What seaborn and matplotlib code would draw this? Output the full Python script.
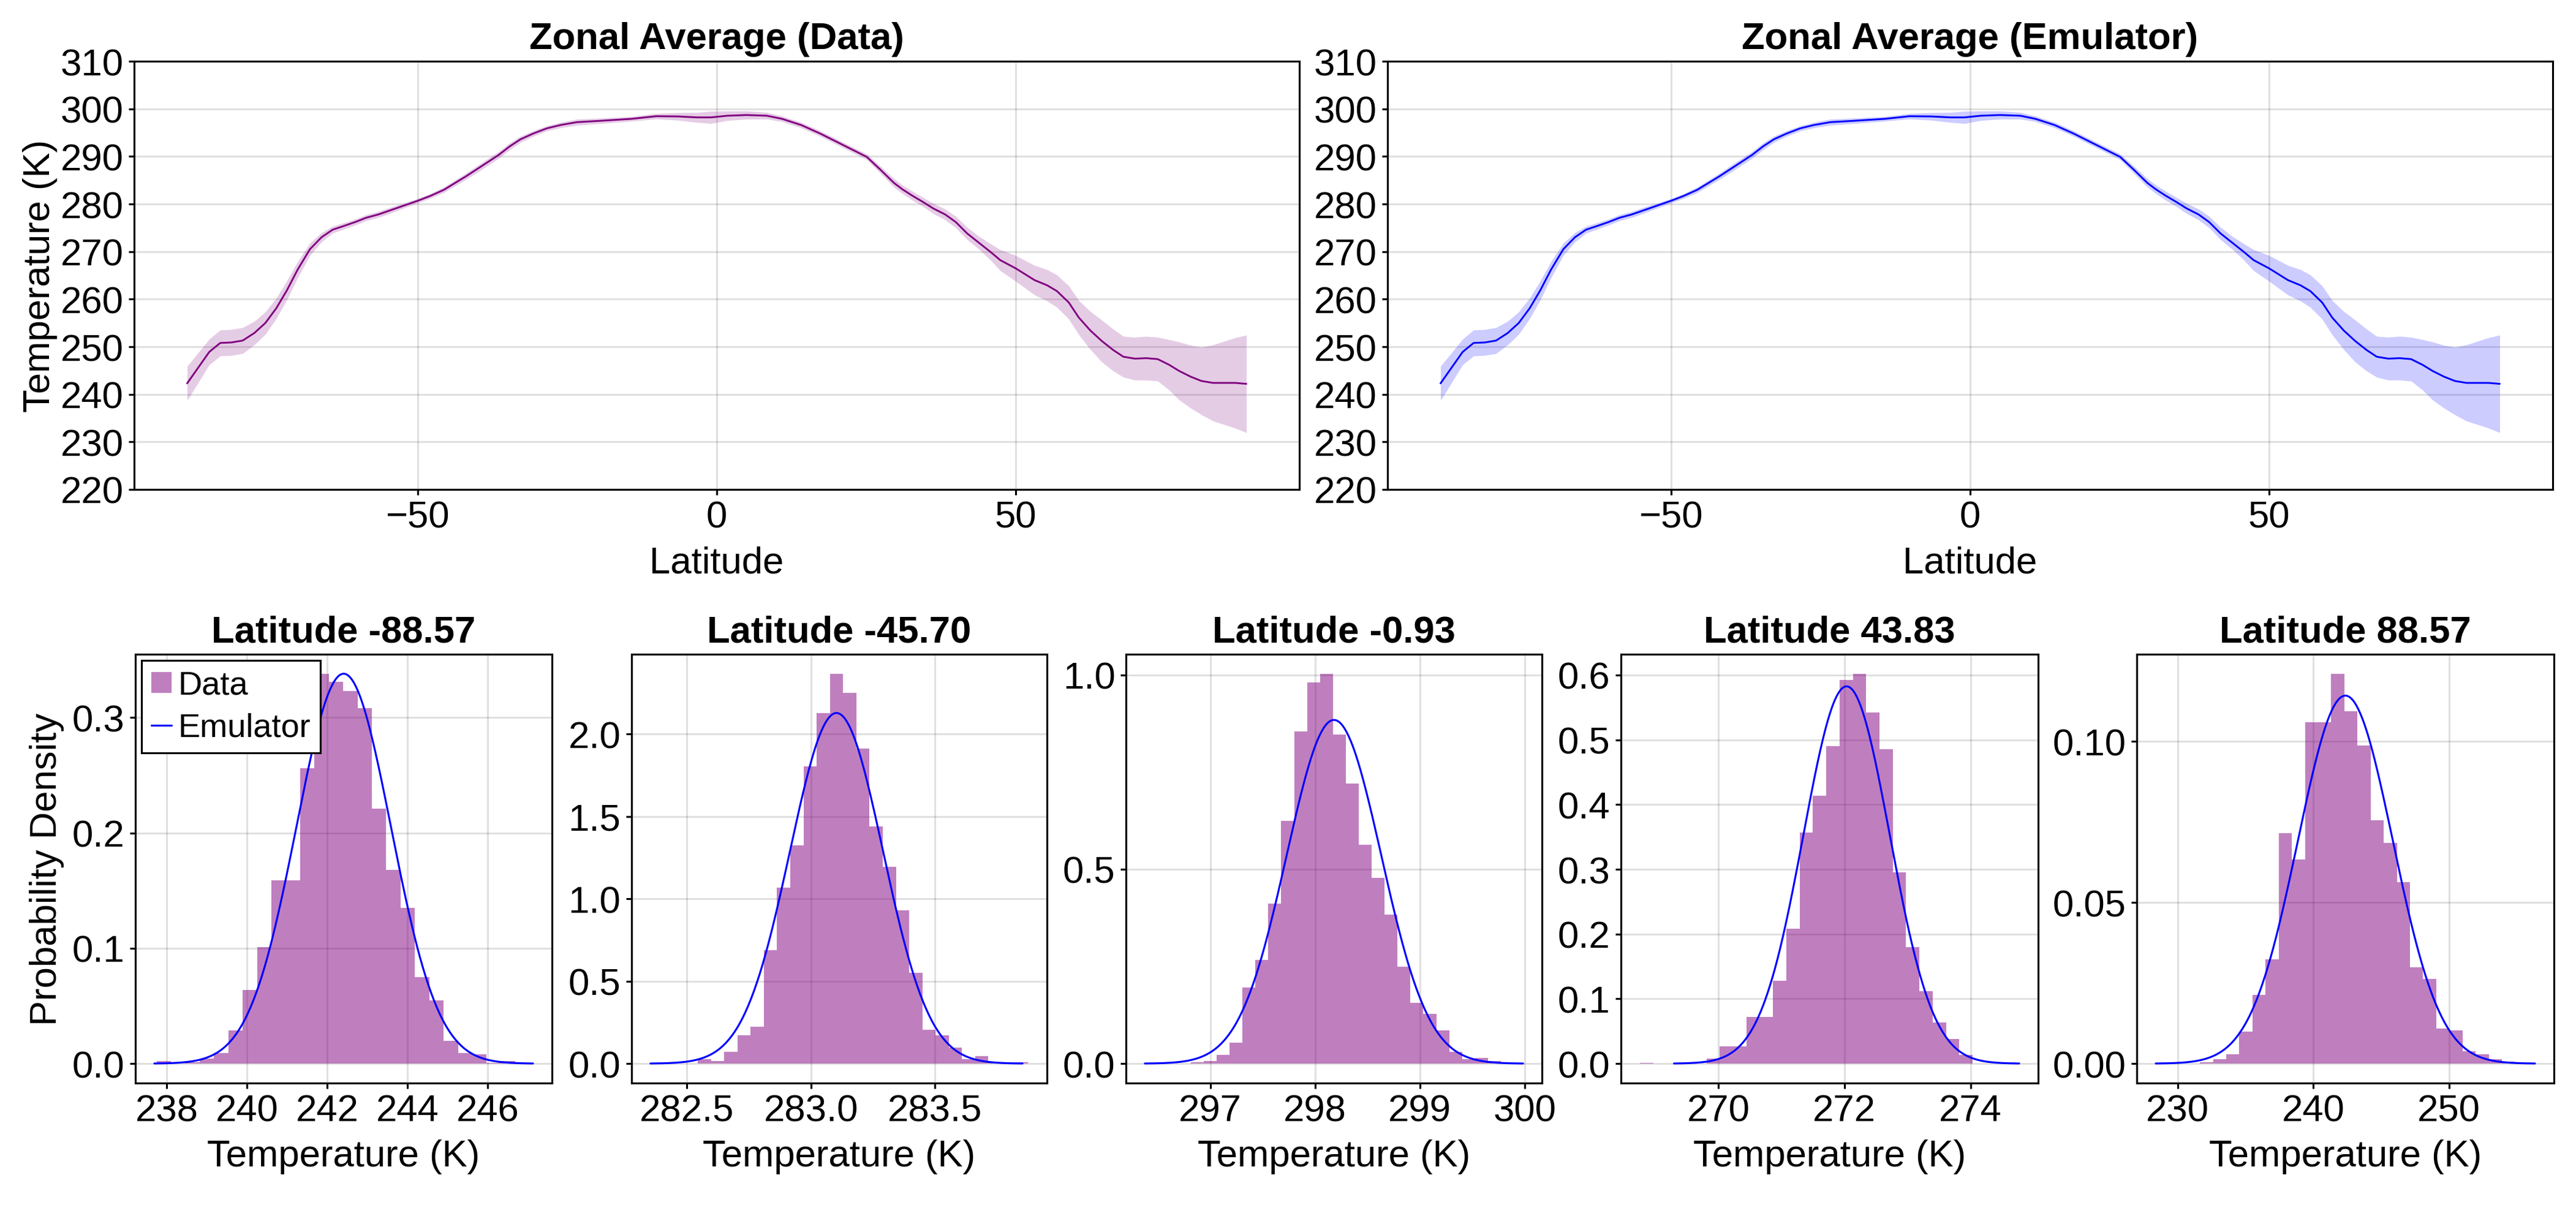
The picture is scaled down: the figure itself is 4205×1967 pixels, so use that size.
import numpy as np
import pandas as pd
import seaborn as sns
import matplotlib.pyplot as plt
from matplotlib.patches import Patch
from matplotlib.lines import Line2D

# zonal average, band = +/- spread
lat = [-88.57, -84.87, -83.03, -81.16, -79.28, -77.31, -75.48, -73.65, -71.91, -70.09, -68.03,
       -66.1, -64.23, -62.32, -60.48, -58.66, -56.6, -54.76, -52.7, -49.97, -47.9, -45.61,
       -43.79, -41.96, -40.13, -38.3, -36.48, -34.64, -32.82, -30.7, -28.42, -26.13, -23.39,
       -19.27, -14.24, -10.12, -6.46, -3.26, -0.97, 1.77, 4.97, 8.4, 10.91, 14.12, 17.31,
       20.97, 25.09, 27.38, 29.67, 31.04, 32.64, 34.46, 36.16, 38.2, 39.98, 41.89, 43.8,
       45.71, 47.41, 49.96, 53.15, 55.27, 56.89, 58.87, 60.57, 62.49, 64.4, 66.31, 68.0,
       69.92, 71.83, 73.74, 75.66, 77.35, 79.26, 81.08, 83.0, 86.69, 88.57]
zonal_mean = [242.3, 248.9, 250.8, 250.9, 251.3, 252.9, 255.0, 258.1, 261.8, 266.2, 270.5,
              273.0, 274.6, 275.4, 276.2, 277.1, 277.8, 278.6, 279.5, 280.7, 281.7, 283.0,
              284.4, 285.8, 287.3, 288.8, 290.3, 292.1, 293.6, 294.8, 295.9, 296.6, 297.2,
              297.5, 297.9, 298.45, 298.4, 298.2, 298.2, 298.55, 298.7, 298.55, 297.9, 296.6,
              294.8, 292.5, 289.9, 287.2, 284.4, 283.1, 281.8, 280.45, 279.1, 277.8, 276.2,
              273.8, 271.9, 270.0, 268.2, 266.5, 264.0, 262.9, 261.7, 259.3, 256.1, 253.4,
              251.2, 249.3, 247.9, 247.5, 247.6, 247.4, 246.2, 244.9, 243.7, 242.8, 242.4,
              242.4, 242.2]
zonal_spread = [3.6, 2.7, 2.73, 2.73, 2.73, 2.47, 2.36, 2.16, 2.0, 1.7, 1.3, 0.98, 0.72, 0.68,
                0.63, 0.63, 0.63, 0.63, 0.55, 0.46, 0.5, 0.58, 0.62, 0.66, 0.72, 0.72, 0.72,
                0.72, 0.65, 0.58, 0.54, 0.58, 0.64, 0.56, 0.49, 0.58, 0.8, 1.05, 1.29, 1.0,
                0.86, 0.7, 0.58, 0.58, 0.58, 0.58, 0.6, 0.75, 0.9, 0.9, 0.95, 0.95, 1.07, 1.13,
                1.2, 1.3, 1.35, 1.7, 2.2, 2.7, 3.1, 3.3, 3.4, 3.5, 3.6, 4.0, 4.4, 4.4, 4.3,
                4.5, 4.6, 4.6, 5.3, 6.1, 6.6, 7.1, 8.0, 9.5, 10.25]
# emulator panel shows the same curve
emu_zonal_mean = list(zonal_mean)
emu_zonal_spread = list(zonal_spread)

# histograms at 5 latitudes
hist_titles = ["Latitude -88.57", "Latitude -45.70", "Latitude -0.93", "Latitude 43.83", "Latitude 88.57"]
hist_start = [237.747, 282.544, 296.815, 268.754, 231.643]
hist_width = [0.3577, 0.05324, 0.1233, 0.2112, 0.9674]
hist_heights = [
    [0.0023, 0, 0.0013, 0.0046, 0.0092, 0.029, 0.064, 0.101, 0.159, 0.159, 0.256, 0.338, 0.331,
     0.323, 0.308, 0.221, 0.168, 0.135, 0.075, 0.055, 0.020, 0.0092, 0.0079, 0.0007, 0.0023],
    [0.025, 0.016, 0.071, 0.170, 0.223, 0.687, 1.068, 1.323, 1.805, 2.129, 2.367, 2.250, 1.913,
     1.442, 1.196, 0.932, 0.551, 0.207, 0.170, 0.096, 0.025, 0.046, 0.005, 0, 0.007],
    [0.003, 0.007, 0.023, 0.054, 0.195, 0.266, 0.411, 0.624, 0.854, 0.980, 1.003, 0.846, 0.720,
     0.563, 0.478, 0.383, 0.250, 0.156, 0.128, 0.086, 0.030, 0.011, 0.015, 0.007],
    [0.0015, 0, 0, 0, 0, 0.008, 0.027, 0.027, 0.072, 0.072, 0.128, 0.208, 0.357, 0.414, 0.490,
     0.592, 0.602, 0.542, 0.485, 0.295, 0.180, 0.112, 0.064, 0.038, 0.013],
    [0.0005, 0.0014, 0.0028, 0.0099, 0.0214, 0.0324, 0.0715, 0.0634, 0.1059, 0.1059, 0.1210,
     0.1094, 0.0988, 0.0755, 0.0684, 0.0563, 0.0298, 0.0263, 0.0109, 0.0103, 0.0039, 0.0029,
     0.0014, 0.0007],
]
emu_mean = [242.41, 283.103, 298.181, 272.034, 242.36]
emu_std = [1.18, 0.1874, 0.4512, 0.6848, 3.493]
hist_xticks = [["238", "240", "242", "244", "246"], ["282.5", "283.0", "283.5"],
               ["297", "298", "299", "300"], ["270", "272", "274"], ["230", "240", "250"]]
hist_yticks = [["0.0", "0.1", "0.2", "0.3"], ["0.0", "0.5", "1.0", "1.5", "2.0"],
               ["0.0", "0.5", "1.0"], ["0.0", "0.1", "0.2", "0.3", "0.4", "0.5", "0.6"],
               ["0.00", "0.05", "0.10"]]
lat_ticks = ["-50", "0", "50"]
temp_ticks = ["220", "230", "240", "250", "260", "270", "280", "290", "300", "310"]

purple = (0.5, 0.0, 0.5)
blue = (0.0, 0.0, 1.0)

sns.set_style("ticks")
plt.rcParams['font.family'] = ['Liberation Sans', 'DejaVu Sans']
plt.rcParams['axes.unicode_minus'] = True
for key in ['text.color', 'axes.labelcolor', 'xtick.color', 'ytick.color']:
    plt.rcParams[key] = 'black'
FS = 14.8

W, H = 4205, 1968
fig = plt.figure(figsize=(W / 300, H / 300), dpi=300)


def px_axes(left, top, right, bottom):
    return fig.add_axes([left / W, 1 - bottom / H, (right - left) / W, (bottom - top) / H])


def style_axes(ax):
    for s in ax.spines.values():
        s.set_visible(True)
        s.set_color("black")
        s.set_linewidth(0.75)
    ax.grid(True, color="black", alpha=0.12, lw=0.72)
    ax.set_axisbelow(True)
    ax.tick_params(direction="out", length=2.2, width=0.75, pad=2, labelsize=FS, color="black")


top_axes = [px_axes(219, 101, 2121, 800), px_axes(2265, 101, 4167, 800)]
top_sets = [("Zonal Average (Data)", zonal_mean, zonal_spread, purple),
            ("Zonal Average (Emulator)", emu_zonal_mean, emu_zonal_spread, blue)]
for i, (ax, (title, m, sp, col)) in enumerate(zip(top_axes, top_sets)):
    style_axes(ax)
    m = np.array(m)
    sp = np.array(sp)
    ax.fill_between(lat, m - sp, m + sp, color=col, alpha=0.2, lw=0)
    sns.lineplot(x=lat, y=m, ax=ax, color=col, lw=0.7)
    ax.use_sticky_edges = False
    ax.margins(x=0.05)
    ax.set_ylim(220, 310)
    ax.set_xticks([float(t) for t in lat_ticks])
    ax.set_yticks([float(t) for t in temp_ticks])
    ax.set_yticklabels(temp_ticks)
    ax.set_title(title, fontsize=FS, fontweight="bold", pad=5)
    ax.set_xlabel("Latitude", fontsize=FS, labelpad=4)
    if i == 0:
        ax.set_ylabel("Temperature (K)", fontsize=FS, labelpad=1)
    else:
        ax.set_ylabel("")

bottom_lr = [(221, 901), (1031, 1709), (1838, 2517), (2646, 3327), (3488, 4169)]
for k, (l, r) in enumerate(bottom_lr):
    ax = px_axes(l, 1069, r, 1769)
    style_axes(ax)
    n = len(hist_heights[k])
    edges = hist_start[k] + hist_width[k] * np.arange(n + 1)
    df = pd.DataFrame({"T": (edges[:-1] + edges[1:]) / 2, "density": hist_heights[k]})
    sns.histplot(data=df, x="T", weights="density", bins=edges.tolist(), ax=ax, color=purple,
                 alpha=0.5, linewidth=0, stat="count")
    mu, sd = emu_mean[k], emu_std[k]
    xs = np.linspace(mu - 4 * sd, mu + 4 * sd, 400)
    pdf = np.exp(-0.5 * ((xs - mu) / sd) ** 2) / (sd * np.sqrt(2 * np.pi))
    sns.lineplot(x=xs, y=pdf, ax=ax, color=blue, lw=0.75)
    ax.use_sticky_edges = False
    ax.margins(0.05)
    ax.set_xticks([float(t) for t in hist_xticks[k]])
    ax.set_xticklabels(hist_xticks[k])
    ax.set_yticks([float(t) for t in hist_yticks[k]])
    ax.set_yticklabels(hist_yticks[k])
    ax.set_title(hist_titles[k], fontsize=FS, fontweight="bold", pad=5)
    ax.set_xlabel("Temperature (K)", fontsize=FS, labelpad=4)
    if k == 0:
        ax.set_ylabel("Probability Density", fontsize=FS, labelpad=3)
        handles = [Patch(facecolor=purple, alpha=0.5, edgecolor="none"),
                   Line2D([], [], color=blue, lw=0.75)]
        leg = ax.legend(handles, ["Data", "Emulator"], loc="upper left", fontsize=13,
                        frameon=True, fancybox=False, edgecolor="black", framealpha=1,
                        borderaxespad=0.18, handlelength=0.6, handleheight=0.6,
                        handletextpad=0.2, borderpad=0.3, labelspacing=0.35)
        leg.get_frame().set_linewidth(0.75)
    else:
        ax.set_ylabel("")

fig.savefig("out.png", dpi=300)
